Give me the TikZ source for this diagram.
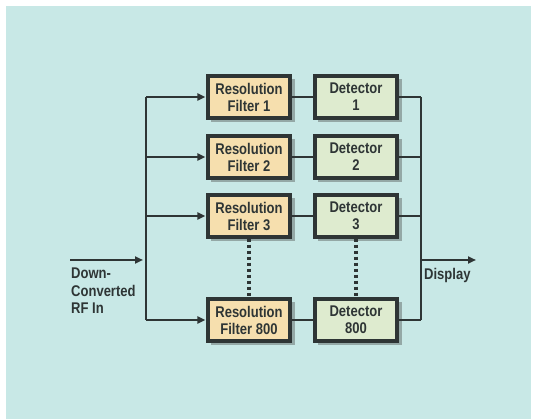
\documentclass[tikz,border=0pt]{standalone}
\usepackage{fontspec}
\setmainfont{Liberation Sans}
\newfontfamily\lblfont{Liberation Sans}[FakeStretch=0.84]
\usetikzlibrary{arrows.meta}
\definecolor{bgc}{HTML}{C8E8E6}
\definecolor{filt}{HTML}{F6DFAE}
\definecolor{detc}{HTML}{DEEBCF}
\definecolor{ink}{HTML}{2E3535}
\definecolor{shad}{HTML}{7F8E8C}
\tikzset{
  blk/.style={draw=ink, line width=3.2pt, minimum width=82pt, minimum height=42pt,
    inner sep=0pt, align=center, font=\lblfont\bfseries\fontsize{15.5}{17}\selectfont,
    text=ink},
  fbox/.style={blk, fill=filt},
  dbox/.style={blk, fill=detc},
  wire/.style={draw=ink, line width=2.6pt},
  arr/.style={wire, -{Triangle[length=8pt,width=7pt]}},
  dots/.style={draw=ink, line width=3.2pt, dash pattern=on 3.5pt off 2.5pt},
  lbl/.style={font=\lblfont\bfseries\fontsize{15.5}{17.5}\selectfont, text=ink, inner sep=0pt}
}
\begin{document}
\begin{tikzpicture}[x=1pt,y=-1pt]
\useasboundingbox (0,0) rectangle (536,419);
\fill[white] (0,0) rectangle (536,419);
\fill[bgc] (6,6) rectangle (531,419);
% shadows
\foreach \cy in {97,157,216,320}{
  \fill[shad,opacity=0.7] (211,\cy-18) rectangle (294.5,\cy+25.5);
  \fill[shad,opacity=0.7] (318,\cy-18) rectangle (401.5,\cy+25.5);
}
\node[fbox] (f1) at (249,97) {Resolution\\Filter 1};
\node[fbox] (f2) at (249,157) {Resolution\\Filter 2};
\node[fbox] (f3) at (249,216) {Resolution\\Filter 3};
\node[fbox] (f4) at (249,320) {Resolution\\Filter 800};
\node[dbox] (d1) at (356,97) {Detector\\1};
\node[dbox] (d2) at (356,157) {Detector\\2};
\node[dbox] (d3) at (356,216) {Detector\\3};
\node[dbox] (d4) at (356,320) {Detector\\800};
\coordinate (lt) at (146,97);
\coordinate (lb) at (146,320);
\coordinate (rt) at (421,97);
\coordinate (rb) at (421,320);
\coordinate (in0) at (70,260);
\coordinate (in1) at (143,260);
\coordinate (out0) at (421,260);
\coordinate (out1) at (476,260);
\draw[wire] (lt) -- (lb);
\draw[wire] (rt) -- (rb);
\foreach \i in {1,2,3,4}{
  \draw[arr] (lt |- f\i.west) -- ([xshift=-1pt]f\i.west);
  \draw[wire] (f\i.east) -- (d\i.west);
  \draw[wire] (d\i.east) -- (rt |- d\i.east);
}
\draw[arr] (in0) -- (in1);
\draw[arr] (out0) -- (out1);
\draw[dots] (f3.south) -- (f4.north);
\draw[dots] (d3.south) -- (d4.north);
\node[lbl, anchor=north west, align=left] (inl) at (71,268) {Down-\\Converted\\RF In};
\node[lbl, anchor=north west] (outl) at (424,268) {Display};
\end{tikzpicture}
\end{document}
